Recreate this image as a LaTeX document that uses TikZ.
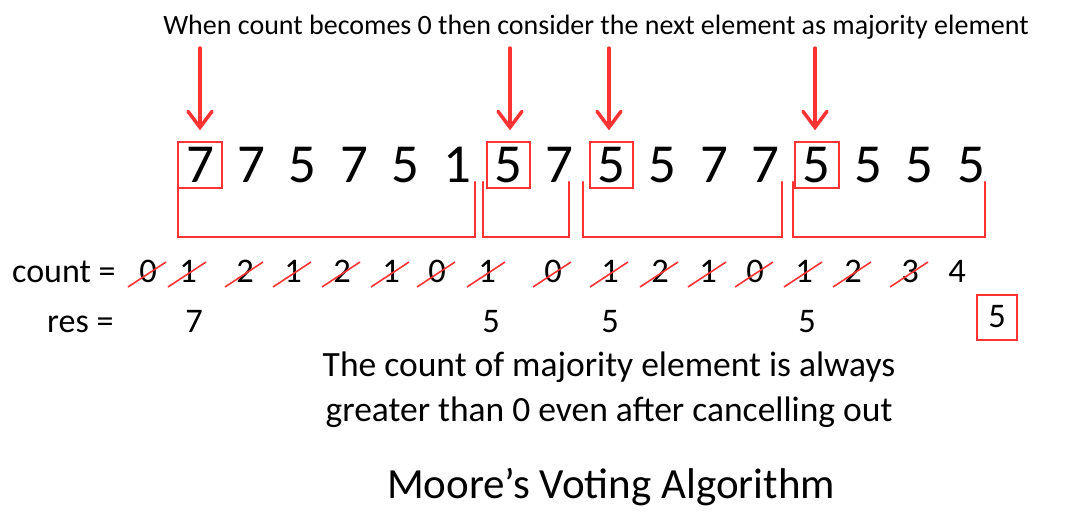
\documentclass[tikz,border=0pt]{standalone}
\usepackage{fontspec}
\setmainfont{Carlito}
\usetikzlibrary{arrows.meta}
\definecolor{pen}{RGB}{255,51,51}
\begin{document}
\begin{tikzpicture}[x=1pt,y=-1pt,
 big/.style={font=\fontsize{55}{55}\selectfont, inner sep=0pt, text height=34.8pt, text depth=0pt, minimum width=43pt, minimum height=45pt, anchor=center},
 bx/.style={draw=pen, line width=2pt},
 mid/.style={font=\fontsize{34.5}{34.5}\selectfont, inner sep=0pt, text height=21.8pt, text depth=0pt, anchor=center},
 lbl/.style={font=\fontsize{34}{34}\selectfont, inner sep=0pt},
 strike/.style={draw=pen, line width=1.6pt},
 brk/.style={draw=pen, line width=2.4pt, line cap=round},
 arr/.style={draw=pen, line width=3.5pt, line cap=round, -{Straight Barb[length=16pt,width=24pt,line cap=round]}, shorten >=12pt}
]
\path[use as bounding box] (0,0) rectangle (1066,515);

\node[font=\fontsize{28}{28}\selectfont] (top) at (596,27) {When count becomes 0 then consider the next element as majority element};

% array
\foreach \v [count=\i from 0] in {7,7,5,7,5,1,5,7,5,5,7,7,5,5,5,5}{
  \node[big] (d\i) at ({200+51.4*\i},165) {\v};
}
\foreach \i in {0,6,8,12}{
  \draw[bx] (d\i.north west) rectangle (d\i.south east);
}

% arrows
\coordinate (a0) at (200,48);
\coordinate (a6) at (510,48);
\coordinate (a8) at (609,48);
\coordinate (a12) at (815,48);
\foreach \i in {0,6,8,12}{
  \draw[arr] (a\i) -- (a\i |- d\i.north);
}

% brackets
\draw[brk] (178,182) |- (475,237) -- (475,182);
\draw[brk] (483,182) |- (569,237) -- (569,182);
\draw[brk] (583,182) |- (782,237) -- (782,182);
\draw[brk] (793,182) |- (985,237) -- (985,182);

% count row
\node[lbl, anchor=base west] (countlbl) at (12,282) {count =};
\foreach \v/\x [count=\i from 0] in {0/148,1/188,2/245,1/293,2/342,1/391,0/437,1/487,0/553,1/610,2/660,1/708,0/755,1/804,2/853,3/910,4/957}{
  \node[mid] (c\i) at (\x,272) {\v};
}
\foreach \i in {0,...,15}{
  \draw[strike] ([xshift=-20pt,yshift=-15pt]c\i.center) -- ([xshift=18pt,yshift=10pt]c\i.center);
}

% res row
\node[lbl, anchor=base west] (reslbl) at (47,332) {res =};
\node[mid] (r0) at (194,322) {7};
\node[mid] (r1) at (491,322) {5};
\node[mid] (r2) at (610,322) {5};
\node[mid] (r3) at (807,322) {5};
\node[mid, draw=pen, line width=2pt, minimum width=40pt, minimum height=45pt] (r4) at (997,317) {5};

\node[font=\fontsize{35.5}{35.5}\selectfont] (m1) at (609,367) {The count of majority element is always};
\node[font=\fontsize{35.5}{35.5}\selectfont] (m2) at (609,412) {greater than 0 even after cancelling out};
\node[font=\fontsize{43}{43}\selectfont] (title) at (611,487) {Moore’s Voting Algorithm};
\end{tikzpicture}
\end{document}
